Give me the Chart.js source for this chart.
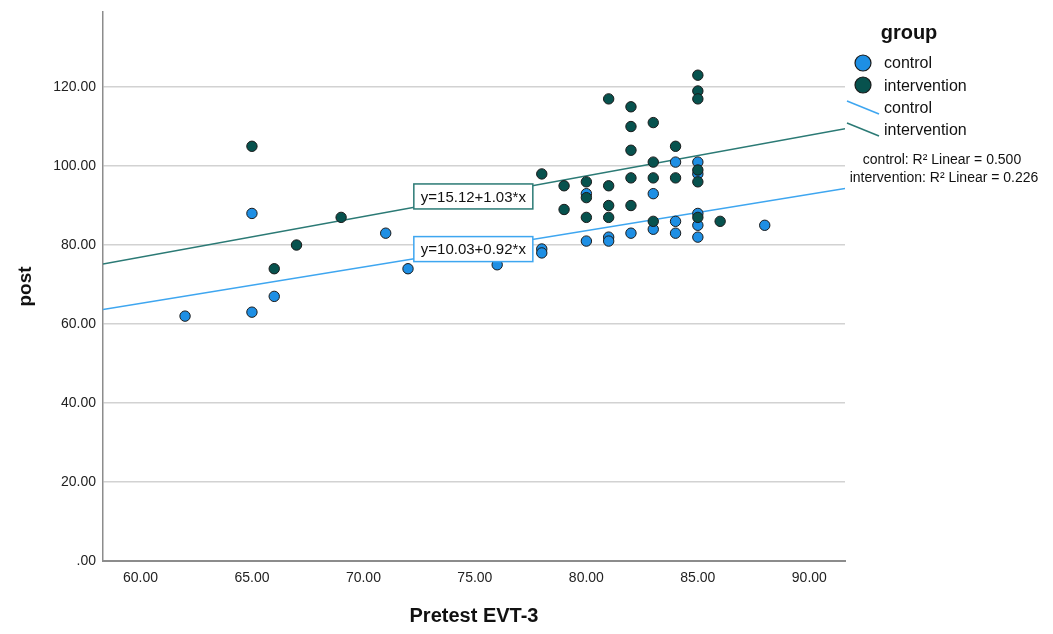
<!DOCTYPE html>
<html>
<head>
<meta charset="utf-8">
<script src="https://cdn.jsdelivr.net/npm/chart.js@4.4.1/dist/chart.umd.min.js"></script>
<style>
  html, body { margin: 0; padding: 0; background: #fff; }
  #wrap { width: 1053px; height: 634px; }
</style>
</head>
<body>
<div id="wrap"><canvas id="chart"></canvas></div>
<script>
// values
const controlX = [62, 65, 65, 66, 71, 72, 76, 78, 78, 80, 80, 81, 81, 82, 83, 83, 84, 84, 84, 85, 85, 85, 85, 85, 88];
const controlY = [62, 63, 88, 67, 83, 74, 75, 79, 78, 93, 81, 82, 81, 83, 93, 84, 101, 86, 83, 101, 98, 88, 85, 82, 85];
const interventionX = [65, 66, 67, 69, 78, 79, 79, 80, 80, 80, 81, 81, 81, 81, 82, 82, 82, 82, 82, 83, 83, 83, 83, 84, 84, 85, 85, 85, 85, 85, 85, 86];
const interventionY = [105, 74, 80, 87, 98, 95, 89, 96, 92, 87, 117, 95, 90, 87, 115, 110, 104, 97, 90, 111, 101, 97, 86, 105, 97, 123, 119, 117, 99, 96, 87, 86];

// fit line end points (edges of the x axis)
const fitX = [58.32, 91.6];
const controlFit = [63.68, 94.30];
const interventionFit = [75.19, 109.47];

const xTicks = [60, 65, 70, 75, 80, 85, 90];
const yTicks = [0, 20, 40, 60, 80, 100, 120];

const equations = ['y=15.12+1.03*x', 'y=10.03+0.92*x'];
const equationX = [74.93, 74.93];
const equationY = [92.30, 78.97];
const r2Text = ['control: R\u00B2 Linear = 0.500', 'intervention: R\u00B2 Linear = 0.226'];

const blue = '#1e8fe4';
const teal = '#07524e';
const blueLine = '#3ea6f0';
const tealLine = '#2b7a75';
const FONT = '"Liberation Sans", Arial, sans-serif';

const toPoints = (xs, ys) => xs.map((x, i) => ({ x: x, y: ys[i] }));

// equation boxes + legend on the right
const extras = {
    id: 'extras',
    afterDatasetsDraw(chart) {
        const ctx = chart.ctx;
        const xs = chart.scales.x, ys = chart.scales.y;
        const borders = [tealLine, blueLine];
        ctx.save();
        ctx.font = '15px ' + FONT;
        ctx.textAlign = 'center';
        ctx.textBaseline = 'middle';
        equations.forEach((t, i) => {
            const cx = xs.getPixelForValue(equationX[i]);
            const cy = ys.getPixelForValue(equationY[i]);
            const w = 119, h = 25;
            ctx.fillStyle = '#fff';
            ctx.fillRect(cx - w / 2, cy - h / 2, w, h);
            ctx.strokeStyle = borders[i];
            ctx.lineWidth = 1.5;
            ctx.strokeRect(cx - w / 2, cy - h / 2, w, h);
            ctx.fillStyle = '#111';
            ctx.fillText(t, cx, cy + 1);
        });
        ctx.restore();
    },
    afterDraw(chart) {
        const ctx = chart.ctx;
        ctx.save();
        ctx.fillStyle = '#111';
        ctx.textBaseline = 'middle';
        ctx.textAlign = 'center';
        ctx.font = 'bold 20px ' + FONT;
        ctx.fillText('group', 909, 33);

        // marker rows
        [[blue, 63], [teal, 85]].forEach(([c, y]) => {
            ctx.beginPath();
            ctx.arc(863, y, 8, 0, Math.PI * 2);
            ctx.fillStyle = c;
            ctx.fill();
            ctx.lineWidth = 1.2;
            ctx.strokeStyle = '#1a1a1a';
            ctx.stroke();
        });
        // line rows
        [[blueLine, 101], [tealLine, 123]].forEach(([c, y]) => {
            ctx.beginPath();
            ctx.moveTo(847, y);
            ctx.lineTo(879, y + 13);
            ctx.strokeStyle = c;
            ctx.lineWidth = 1.5;
            ctx.stroke();
        });
        ctx.fillStyle = '#111';
        ctx.textAlign = 'left';
        ctx.font = '16px ' + FONT;
        ctx.fillText('control', 884, 64);
        ctx.fillText('intervention', 884, 87);
        ctx.fillText('control', 884, 109);
        ctx.fillText('intervention', 884, 131);

        ctx.textAlign = 'center';
        ctx.font = '14px ' + FONT;
        ctx.fillText(r2Text[0], 942, 160);
        ctx.fillText(r2Text[1], 944, 178);
        ctx.restore();
    }
};

const ctx = document.getElementById('chart').getContext('2d');

const myChart = new Chart(ctx, {
    data: {
        datasets: [
            {
                type: 'line',
                label: 'control fit',
                data: toPoints(fitX, controlFit),
                borderColor: blueLine,
                borderWidth: 1.5,
                pointRadius: 0,
                order: 3
            },
            {
                type: 'line',
                label: 'intervention fit',
                data: toPoints(fitX, interventionFit),
                borderColor: tealLine,
                borderWidth: 1.5,
                pointRadius: 0,
                order: 3
            },
            {
                type: 'scatter',
                label: 'control',
                data: toPoints(controlX, controlY),
                backgroundColor: blue,
                borderColor: '#1a1a1a',
                borderWidth: 1,
                pointRadius: 5.2,
                order: 2
            },
            {
                type: 'scatter',
                label: 'intervention',
                data: toPoints(interventionX, interventionY),
                backgroundColor: teal,
                borderColor: '#1a1a1a',
                borderWidth: 1,
                pointRadius: 5.2,
                order: 1
            }
        ]
    },
    plugins: [extras],
    options: {
        responsive: true,
        maintainAspectRatio: false,
        animation: false,
        layout: { padding: { top: 12, right: 208, left: 0, bottom: 0 } },
        plugins: {
            legend: { display: false },
            tooltip: { enabled: false }
        },
        scales: {
            x: {
                type: 'linear',
                min: fitX[0],
                max: fitX[1],
                afterBuildTicks: s => { s.ticks = xTicks.map(v => ({ value: v })); },
                afterFit: s => { s.height = 73; },
                grid: { display: false, drawTicks: false },
                border: { display: true, color: '#8c8c8c', width: 2 },
                ticks: {
                    padding: 9,
                    color: '#222',
                    font: { family: FONT, size: 14 },
                    callback: v => v.toFixed(2)
                },
                title: {
                    display: true,
                    text: 'Pretest EVT-3',
                    color: '#111',
                    font: { family: FONT, size: 20, weight: 'bold' },
                    padding: { top: 0, bottom: 6 }
                }
            },
            y: {
                type: 'linear',
                min: 0,
                max: 139,
                afterBuildTicks: s => { s.ticks = yTicks.map(v => ({ value: v })); },
                afterFit: s => { s.width = 103; s.paddingTop = 0; s.paddingBottom = 0; },
                grid: { color: '#d2d2d2', lineWidth: 1.5, drawTicks: false },
                border: { display: true, color: '#8c8c8c', width: 1.5 },
                ticks: {
                    padding: 7,
                    color: '#222',
                    font: { family: FONT, size: 14 },
                    callback: v => v === 0 ? '.00' : v.toFixed(2)
                },
                title: {
                    display: true,
                    text: 'post',
                    color: '#111',
                    font: { family: FONT, size: 19, weight: 'bold' },
                    padding: { top: 14, bottom: 0 }
                }
            }
        }
    }
});
</script>
</body>
</html>
